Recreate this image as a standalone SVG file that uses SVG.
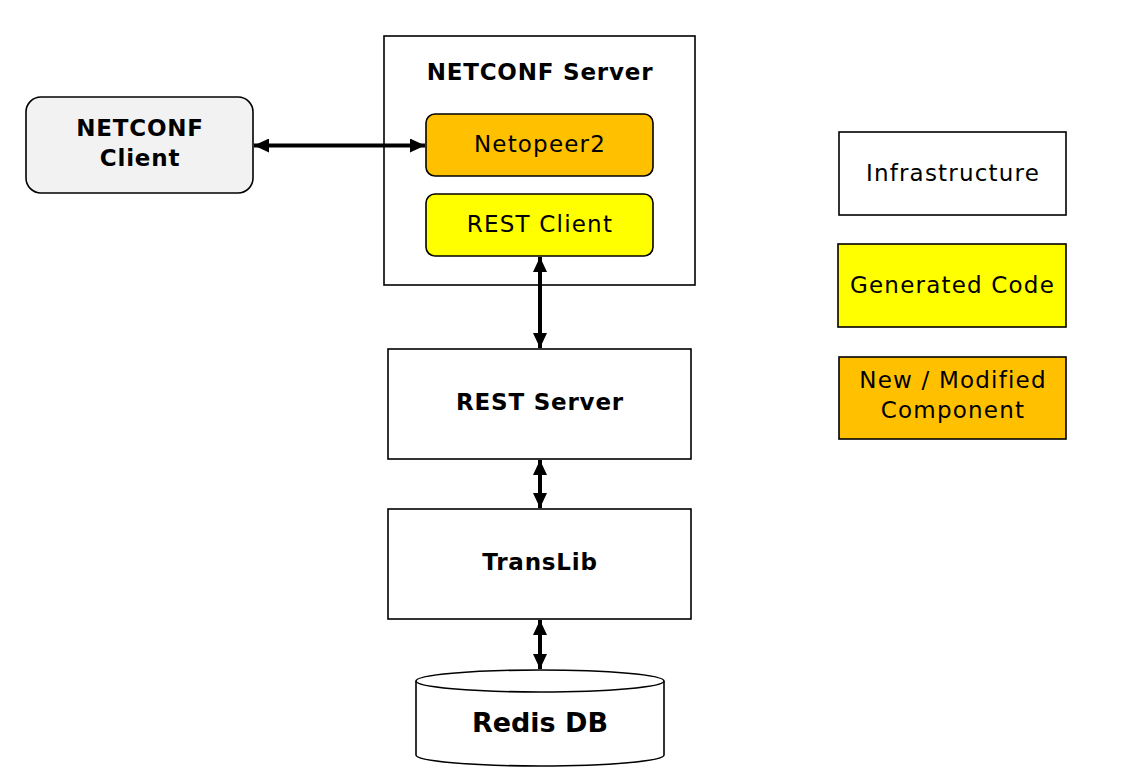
<svg xmlns="http://www.w3.org/2000/svg" width="1132" height="781" viewBox="0 0 1132 781">
<style>
.box{stroke:#000;stroke-width:1.6}
.t{font-family:"DejaVu Sans","Noto Sans",sans-serif;font-size:23px;fill:#000;text-anchor:middle;letter-spacing:1.2px}
.b{font-weight:bold;letter-spacing:0.8px}
.c{stroke:#000;stroke-width:4;fill:none}
</style>
<defs>
<marker id="ah" viewBox="0 0 10 10" refX="10" refY="5" markerWidth="15" markerHeight="14" preserveAspectRatio="none" orient="auto-start-reverse" markerUnits="userSpaceOnUse">
<path d="M0,0 L10,5 L0,10 z" fill="#000"/>
</marker>
</defs>
<rect width="1132" height="781" fill="#fff"/>
<g id="netconf-client">
<rect class="box" x="26" y="97" width="227" height="96" rx="15" fill="#f2f2f2"/>
<text class="t b" x="140" y="136">NETCONF</text>
<text class="t b" x="140" y="166">Client</text>
</g>
<g id="netconf-server">
<rect class="box" x="384" y="36" width="311" height="249" fill="#fff"/>
<text class="t b" x="540" y="80">NETCONF Server</text>
</g>
<g id="netopeer2">
<rect class="box" x="426" y="114" width="227" height="62" rx="9" fill="#ffc000"/>
<text class="t" x="540" y="152">Netopeer2</text>
</g>
<g id="rest-client">
<rect class="box" x="426" y="194" width="227" height="62" rx="9" fill="#ffff00"/>
<text class="t" x="540" y="232">REST Client</text>
</g>
<g id="rest-server">
<rect class="box" x="388" y="349" width="303" height="110" fill="#fff"/>
<text class="t b" x="540" y="410">REST Server</text>
</g>
<g id="translib">
<rect class="box" x="388" y="509" width="303" height="110" fill="#fff"/>
<text class="t b" x="540" y="570">TransLib</text>
</g>
<g id="redis-db">
<path class="box" d="M416,681 L416,755 A124,11 0 0 0 664,755 L664,681" fill="#fff"/>
<ellipse class="box" cx="540" cy="681" rx="124" ry="11" fill="#fff"/>
<text class="t b" x="540" y="732" style="font-size:27px;letter-spacing:0">Redis DB</text>
</g>
<g id="legend-infrastructure">
<rect class="box" x="839" y="132" width="227" height="83" fill="#fff"/>
<text class="t" x="953" y="181">Infrastructure</text>
</g>
<g id="legend-generated">
<rect class="box" x="838" y="244" width="228" height="83" fill="#ffff00"/>
<text class="t" x="952.5" y="293">Generated Code</text>
</g>
<g id="legend-new">
<rect class="box" x="839" y="357" width="227" height="82" fill="#ffc000"/>
<text class="t" x="953" y="388">New / Modified</text>
<text class="t" x="953" y="418">Component</text>
</g>
<g id="connectors">
<line class="c" x1="254" y1="145.5" x2="425" y2="145.5" marker-start="url(#ah)" marker-end="url(#ah)"/>
<line class="c" x1="540" y1="257" x2="540" y2="348" marker-start="url(#ah)" marker-end="url(#ah)"/>
<line class="c" x1="540" y1="460" x2="540" y2="508" marker-start="url(#ah)" marker-end="url(#ah)"/>
<line class="c" x1="540" y1="620" x2="540" y2="669" marker-start="url(#ah)" marker-end="url(#ah)"/>
</g>
</svg>
